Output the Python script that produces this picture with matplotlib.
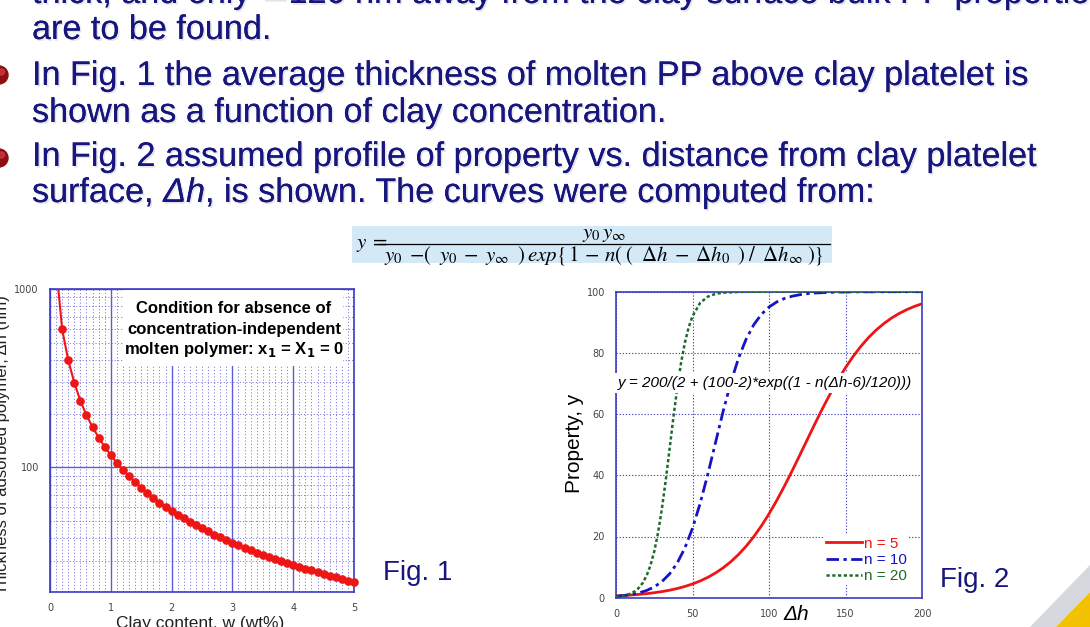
import matplotlib
matplotlib.use("Agg")
import matplotlib.pyplot as plt
from matplotlib.patches import Rectangle, Circle, Polygon
import matplotlib.patheffects as pe
from matplotlib.ticker import FixedLocator, NullFormatter

# ---------------- data ----------------
clay_x = [0.2, 0.3, 0.4, 0.5, 0.6, 0.7, 0.8, 0.9, 1.0, 1.1, 1.2, 1.3, 1.4, 1.5,
          1.6, 1.7, 1.8, 1.9, 2.0, 2.1, 2.2, 2.3, 2.4, 2.5, 2.6, 2.7, 2.8, 2.9,
          3.0, 3.1, 3.2, 3.3, 3.4, 3.5, 3.6, 3.7, 3.8, 3.9, 4.0, 4.1, 4.2, 4.3,
          4.4, 4.5, 4.6, 4.7, 4.8, 4.9, 5.0]
thickness = [594, 399, 298, 236, 196, 168, 147, 130, 117, 106, 97, 89, 82.5, 77,
             72, 67.5, 63.5, 60, 57, 54.2, 51.7, 49.5, 47.4, 45.5, 43.7, 42.0, 40.5, 39.1,
             37.8, 36.6, 35.4, 34.3, 33.3, 32.4, 31.5, 30.6, 29.8, 29.1, 28.3, 27.7, 27.0, 26.4,
             25.8, 25.2, 24.7, 24.2, 23.7, 23.2, 22.7]
line_start_x = [0.13]
line_start_y = [1060]

n5_h = [0, 5, 10, 15, 20, 25, 30, 35, 40, 45, 50, 55, 60, 65, 70, 75, 80, 85, 90, 95,
        100, 105, 110, 115, 120, 125, 130, 135, 140, 145, 150, 155, 160, 165, 170,
        175, 180, 185, 190, 195, 200]
n5_y = [0.58, 0.72, 0.88, 1.08, 1.33, 1.63, 2.00, 2.45, 3.00, 3.67, 4.49, 5.47, 6.65,
        8.07, 9.75, 11.74, 14.08, 16.79, 19.91, 23.44, 27.39, 31.72, 36.39, 41.33, 46.46,
        51.65, 56.83, 61.85, 66.63, 71.09, 75.18, 78.86, 82.12, 84.98, 87.45, 89.56,
        91.36, 92.87, 94.13, 95.18, 96.05]

n10_h = [0, 5, 10, 15, 20, 25, 30, 35, 40, 45, 50, 55, 60, 65, 70, 75, 80, 85, 90, 95,
         100, 105, 110, 115, 120, 125, 130, 140, 150, 160, 180, 200]
n10_y = [0.45, 0.69, 1.04, 1.57, 2.35, 3.53, 5.26, 7.76, 11.32, 16.22, 22.70, 30.82,
         40.33, 50.62, 60.86, 70.23, 78.16, 84.44, 89.17, 92.59, 94.98, 96.64, 97.76,
         98.51, 99.01, 99.35, 99.57, 99.81, 99.92, 99.96, 99.99, 100.0]

n20_h = [0, 5, 7.5, 10, 12.5, 15, 17.5, 20, 22.5, 25, 27.5, 30, 32.5, 35, 37.5, 40,
         42.5, 45, 47.5, 50, 55, 60, 65, 70, 80, 90, 100, 150, 200]
n20_y = [0.28, 0.63, 0.96, 1.44, 2.17, 3.26, 4.86, 7.19, 10.51, 15.12, 21.27, 29.07,
         38.34, 48.53, 58.86, 68.46, 76.70, 83.32, 88.34, 91.99, 96.35, 98.39, 99.29,
         99.69, 99.94, 99.99, 100.0, 100.0, 100.0]

fig1_xticks = [0, 1, 2, 3, 4, 5]
fig1_yticks = [100, 1000]
fig2_xticks = [0, 50, 100, 150, 200]
fig2_yticks = [0, 20, 40, 60, 80, 100]

bullet_lines = [
    "thick, and only \u2245120 nm away from the clay surface bulk PP properties",
    "are to be found.",
    "In Fig. 1 the average thickness of molten PP above clay platelet is",
    "shown as a function of clay concentration.",
    "In Fig. 2 assumed profile of property vs. distance from clay platelet",
]

# ---------------- figure ----------------
W, H = 1090, 627
fig = plt.figure(figsize=(W / 100, H / 100), dpi=100)
fig.patch.set_facecolor("white")

NAVY = "#16167e"
SANS = ["Liberation Sans", "DejaVu Sans"]
FS = 24.6

bg = fig.add_axes([0, 0, 1, 1])
bg.set_xlim(0, W)
bg.set_ylim(H, 0)
bg.axis("off")
bg.set_zorder(0)

shadow = [pe.withSimplePatchShadow(offset=(1.2, -1.2), shadow_rgbFace="#9a9aa8", alpha=0.25), pe.Normal()]

def slide_text(x, y, s, **kw):
    return bg.text(x, y, s, color=NAVY, fontsize=FS, family=SANS, va="baseline",
                   ha="left", path_effects=shadow, **kw)

slide_text(32, 3, bullet_lines[0])
slide_text(32, 39, bullet_lines[1])
slide_text(32, 85, bullet_lines[2])
slide_text(32, 122, bullet_lines[3])
slide_text(32, 166, bullet_lines[4])
t_surf = slide_text(32, 202, "surface, ")
fig.canvas.draw()
t2 = slide_text(t_surf.get_window_extent().x1, 202, "\u0394h", style="italic")
fig.canvas.draw()
slide_text(t2.get_window_extent().x1, 202, ", is shown. The curves were computed from:")

# bullets
for yb in [75, 158]:
    bg.add_patch(Circle((-1, yb), 9, color="#8e0f12", zorder=3))
    bg.add_patch(Circle((1.5, yb - 3), 3.0, color="#d8494c", alpha=0.6, zorder=4))

# equation box (built from numerator, rule and denominator)
bg.add_patch(Rectangle((352, 226), 480, 37, facecolor="#d4e9f8", edgecolor="none", zorder=1))
EQ_FS = 15
bg.text(356, 244, r"$y\;=$", fontsize=EQ_FS, ha="left", va="center",
        math_fontfamily="stix", zorder=2)
bg.plot([379, 830], [244, 244], color="black", lw=0.9, zorder=2)
bg.text(604, 237.5, r"$y_0\,y_\infty$", fontsize=EQ_FS, ha="center", va="baseline",
        math_fontfamily="stix", zorder=2)
den = (r"$y_0\;-\!(\;\;y_0\;-\;y_\infty\;\;)\,exp\{\,1\,-\,n(\;(\;\;\Delta h\;-\;\Delta h_0\;\;)"
       r"\;/\;\;\Delta h_\infty\;)\}$")
bg.text(604, 260.5, den, fontsize=EQ_FS, ha="center", va="baseline",
        math_fontfamily="stix", zorder=2)

# Fig labels
bg.text(383, 573, "Fig. 1", fontsize=20, color=NAVY, family=SANS, va="center", ha="left")
bg.text(940, 580, "Fig. 2", fontsize=20, color=NAVY, family=SANS, va="center", ha="left")

# corner decoration
bg.add_patch(Polygon([[1030, 627], [1090, 565], [1090, 592], [1056, 627]], closed=True,
                     facecolor="#d5d8de", edgecolor="none", zorder=1))
bg.add_patch(Polygon([[1056, 627], [1090, 592], [1090, 627]], closed=True,
                     facecolor="#f2c200", edgecolor="none", zorder=1))

# ---------------- Fig. 1 (left) ----------------
BLUE_AX = "#3b3bc4"
ax1 = fig.add_axes([50 / W, 1 - 592 / H, (354 - 50) / W, (592 - 289) / H])
ax1.set_zorder(2)
ax1.set_yscale("log")
ax1.set_xlim(0, 5)
ax1.set_ylim(20, 1000)
ax1.xaxis.set_major_locator(FixedLocator(fig1_xticks))
ax1.xaxis.set_minor_locator(FixedLocator([i / 10 for i in range(1, 50) if i % 10]))
ax1.yaxis.set_major_locator(FixedLocator(fig1_yticks))
ax1.yaxis.set_minor_locator(FixedLocator([20, 30, 40, 50, 60, 70, 80, 90,
                                          200, 300, 400, 500, 600, 700, 800, 900]))
ax1.yaxis.set_minor_formatter(NullFormatter())
ax1.set_yticklabels(["100", "1000"])
ax1.grid(which="major", color="#5c5cd6", lw=1.0, ls="-")
ax1.grid(which="minor", color="#6464dc", lw=0.55, ls=(0, (1.6, 2.6)))
ax1.set_axisbelow(True)
for s in ax1.spines.values():
    s.set_color(BLUE_AX)
    s.set_linewidth(1.2)
ax1.tick_params(which="both", length=0, labelsize=7, labelcolor="#444444", pad=8)
ax1.plot(line_start_x + clay_x, line_start_y + thickness, color="#ee1515", lw=1.5, zorder=3)
ax1.plot(clay_x, thickness, "o", color="#ee1515", ms=5.2, zorder=4, clip_on=False)
ax1.add_patch(Rectangle((0.24, 0.745), 0.725, 0.253, transform=ax1.transAxes,
                        facecolor="white", edgecolor="none", zorder=2.5))
box_fs = 12
ax1.text(0.605, 0.935, "Condition for absence of", transform=ax1.transAxes, ha="center",
         va="center", fontsize=box_fs, fontweight="bold", family=SANS, zorder=5)
ax1.text(0.605, 0.866, "concentration-independent", transform=ax1.transAxes, ha="center",
         va="center", fontsize=box_fs, fontweight="bold", family=SANS, zorder=5)
ax1.text(0.605, 0.80, r"molten polymer: x$_\mathbf{1}$ = X$_\mathbf{1}$ = 0",
         transform=ax1.transAxes, ha="center", va="center", fontsize=box_fs,
         fontweight="bold", family=SANS, math_fontfamily="dejavusans", zorder=5)
fig.text(3 / W, 1 - 445 / H, "Thickness of adsorbed polymer, \u0394h (nm)", rotation=90,
         ha="center", va="center", fontsize=12, family=SANS, color="#222222")
fig.text(200 / W, 1 - 616 / H, "Clay content, w (wt%)", ha="center", va="top",
         fontsize=12.5, family=SANS, color="#222222")

# ---------------- Fig. 2 (right) ----------------
ax2 = fig.add_axes([616 / W, 1 - 597.7 / H, (922 - 616) / W, (597.7 - 291.7) / H])
ax2.set_zorder(2)
ax2.set_xlim(0, 200)
ax2.set_ylim(0, 100)
ax2.set_xticks(fig2_xticks)
ax2.set_yticks(fig2_yticks)
ax2.grid(which="major", color="#4a4ac8", lw=0.8, ls=(0, (1.2, 1.6)))
ax2.set_axisbelow(True)
for s in ax2.spines.values():
    s.set_color(BLUE_AX)
    s.set_linewidth(1.2)
ax2.tick_params(length=0, labelsize=7, labelcolor="#444444", pad=8)
l5, = ax2.plot(n5_h, n5_y, color="#ee1515", lw=2, label="n = 5", zorder=3)
l10, = ax2.plot(n10_h, n10_y, color="#1414c4", lw=2, label="n = 10", zorder=3)
l10.set_dashes([4.5, 1.6, 1.2, 1.6])
l20, = ax2.plot(n20_h, n20_y, color="#1d6a2a", lw=1.8, label="n = 20", zorder=3)
l20.set_dashes([1.3, 1.0])
ax2.text(1, 70.2, "y = 200/(2 + (100-2)*exp((1 - n(\u0394h-6)/120)))", fontsize=11,
         style="italic", family=SANS, va="center", ha="left", zorder=4,
         bbox=dict(facecolor="white", edgecolor="none", pad=2))
leg = ax2.legend(loc="lower right", bbox_to_anchor=(0.98, 0.018), frameon=True,
                 handlelength=2.4, handletextpad=0.1, labelspacing=0.14,
                 borderpad=0.1, labelcolor="linecolor", prop={"family": SANS, "size": 11})
leg.get_frame().set_facecolor("white")
leg.get_frame().set_edgecolor("none")
leg.get_frame().set_alpha(1)
leg.set_zorder(5)
fig.text(575 / W, 1 - 443 / H, "Property, y", rotation=90, ha="center", va="center",
         fontsize=15, family=SANS, color="black")
ax2.text(0.59, -0.024, "\u0394h", transform=ax2.transAxes, fontsize=15, style="italic",
         family=SANS, ha="center", va="top")

fig.savefig("out.png", dpi=100)
